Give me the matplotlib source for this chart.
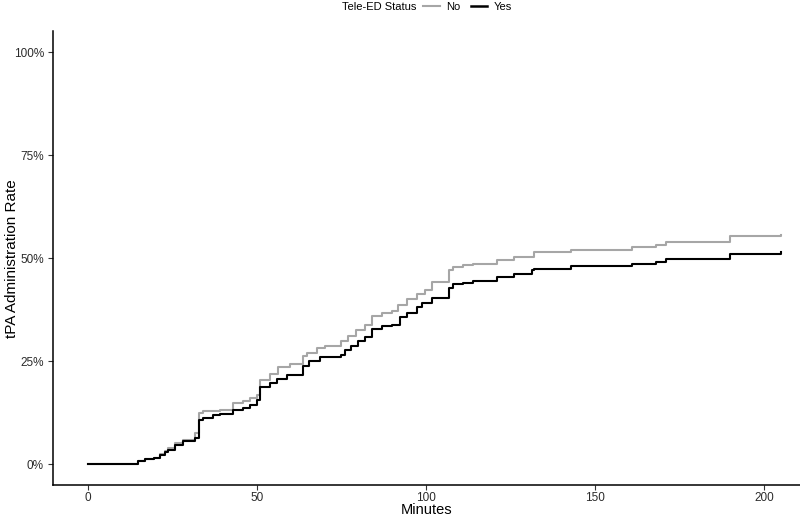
import matplotlib
matplotlib.use("Agg")
import matplotlib.pyplot as plt
from matplotlib.lines import Line2D

plt.rcParams['font.family'] = ['Liberation Sans', 'DejaVu Sans']

# Cumulative tPA administration (step function), minutes vs percent
no_times = [0, 15, 17, 19.6, 21.4, 22.9, 23.9, 25.8, 28.3, 31.7, 33, 34, 37, 39, 43, 46, 48, 50,
            51, 54, 56.4, 59.9, 63.8, 65, 67.8, 70.2, 75, 77, 79.5, 82, 84, 87, 90, 91.8, 94.4,
            97.3, 99.8, 101.8, 107, 108, 111, 114, 121, 126, 132, 143, 161, 168, 171, 190, 205]
no_pct = [0, 0.8, 1.2, 1.6, 2.4, 3.2, 3.9, 5.2, 6.0, 7.6, 12.5, 12.9, 13.0, 13.3, 15.0, 15.4, 16.2, 16.8,
          20.5, 22.0, 23.5, 24.4, 26.4, 27.1, 28.2, 28.8, 29.9, 31.2, 32.7, 33.9, 36.0, 36.7, 37.3, 38.7, 40.0,
          41.2, 42.4, 44.2, 47.2, 47.8, 48.3, 48.7, 49.6, 50.4, 51.6, 52.0, 52.6, 53.3, 53.9, 55.3, 55.7]

yes_times = [0, 15, 17, 19.6, 21.4, 22.9, 23.9, 25.8, 28.3, 31.7, 33, 34, 37, 39, 43, 46, 48, 50,
             51, 54, 56, 59, 63.8, 65.5, 68.7, 75, 76, 78, 80, 82, 84, 87, 90, 92.4, 94.4,
             97.3, 99, 101.8, 107, 108, 111, 114, 121, 126, 131.5, 132, 143, 161, 168, 171, 190, 205]
yes_pct = [0, 0.8, 1.2, 1.6, 2.2, 3.0, 3.6, 4.6, 5.6, 6.5, 10.7, 11.3, 11.9, 12.3, 13.1, 13.7, 14.5, 15.5,
           18.8, 19.8, 20.7, 21.6, 23.8, 25.0, 26.0, 26.6, 27.7, 28.8, 29.9, 30.9, 32.9, 33.5, 33.9, 35.8, 36.6,
           38.2, 39.2, 40.4, 42.8, 43.8, 44.1, 44.5, 45.4, 46.2, 47.1, 47.5, 48.0, 48.6, 49.1, 49.8, 51.1, 51.6]

x_ticks = [0, 50, 100, 150, 200]
y_ticks = [0, 0.25, 0.5, 0.75, 1.0]
y_tick_labels = ['0%', '25%', '50%', '75%', '100%']
series_labels = ['No', 'Yes']
series_colors = ['#A6A6A6', '#000000']

fig = plt.figure(figsize=(8, 5.17), dpi=100)
ax_bottom_px, ax_top_px = 485, 31.4
ax = fig.add_axes([53 / 800, 1 - ax_bottom_px / 517, 1 - 53 / 800, (ax_bottom_px - ax_top_px) / 517])

for t, p, lab, col in [(no_times, no_pct, series_labels[0], series_colors[0]),
                       (yes_times, yes_pct, series_labels[1], series_colors[1])]:
    ax.step(t, [v / 100 for v in p], where='post', color=col, lw=1.5, label=lab)

ax.set_xlim(-10.25, 210.7)
ax.set_ylim(-0.05, 1.05)
ax.set_xticks(x_ticks)
ax.set_yticks(y_ticks)
ax.set_yticklabels(y_tick_labels)
for s in ['top', 'right']:
    ax.spines[s].set_visible(False)
for s in ['left', 'bottom']:
    ax.spines[s].set_linewidth(1.1)
    ax.spines[s].set_color('#000000')
ax.tick_params(axis='both', length=3.5, width=0.8, color='#333333', labelcolor='#2b2b2b',
               labelsize=8.5)
ax.tick_params(axis='x', pad=1.5)
ax.tick_params(axis='y', pad=3)
ax.set_xlabel('Minutes', fontsize=10.5, va='center')
ax.xaxis.set_label_coords(0.5, -(509.5 - ax_bottom_px) / (ax_bottom_px - ax_top_px))
ax.set_ylabel('tPA Administration Rate', fontsize=11, va='center')
ax.yaxis.set_label_coords(-(53 - 12) / 747, 0.5)

fig.text(416 / 800, 1 - 6.5 / 517, 'Tele-ED Status', ha='right', va='center', fontsize=8)
handles = [Line2D([], [], color=series_colors[0], lw=1.5),
           Line2D([], [], color=series_colors[1], lw=1.8)]
fig.legend(handles, series_labels, loc='center left', bbox_to_anchor=(423 / 800, 1 - 6.5 / 517),
           ncol=2, frameon=False, fontsize=8, handlelength=1.5, handletextpad=0.6,
           columnspacing=0.9, borderpad=0, borderaxespad=0)

fig.savefig('out.png', dpi=100)
